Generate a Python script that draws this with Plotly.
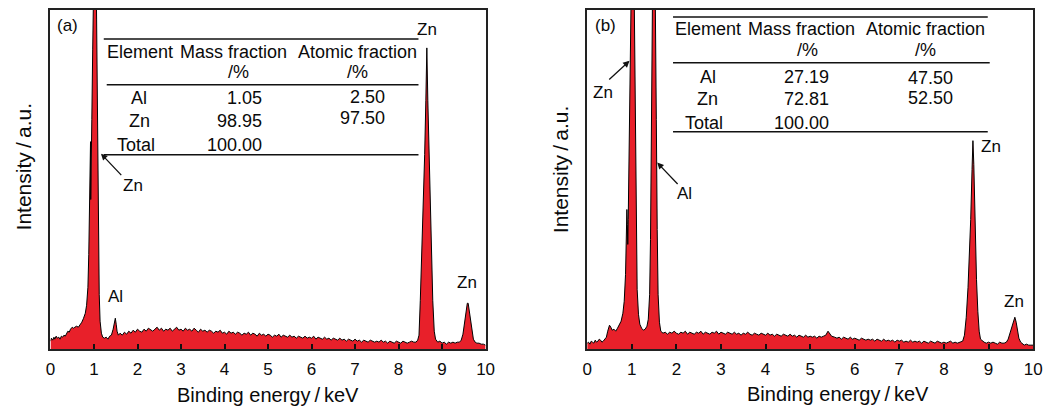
import plotly.graph_objects as go

# ---------------- data (intensity in a.u.) ----------------
spectrum_a = [
    (0.00, 8), (0.02, 11), (0.05, 9), (0.08, 12), (0.10, 10), (0.13, 13), (0.16, 11), (0.19, 12),
    (0.22, 10), (0.25, 13), (0.28, 12), (0.31, 14), (0.34, 13), (0.37, 16), (0.40, 18), (0.43, 17),
    (0.46, 20), (0.50, 22), (0.53, 21), (0.56, 22), (0.60, 23), (0.64, 22), (0.68, 24), (0.72, 27),
    (0.76, 31), (0.80, 36), (0.83, 44), (0.86, 62), (0.88, 95), (0.90, 140), (0.91, 175), (0.92, 208),
    (0.925, 150), (0.93, 160), (0.95, 230), (0.97, 300), (0.99, 380), (1.01, 420), (1.04, 410),
    (1.06, 330), (1.08, 220), (1.10, 120), (1.12, 55), (1.14, 28), (1.17, 16), (1.20, 12), (1.24, 11),
    (1.28, 12), (1.32, 10), (1.36, 13), (1.40, 14), (1.44, 20), (1.47, 29), (1.49, 31), (1.51, 25),
    (1.53, 18), (1.56, 14), (1.60, 16), (1.65, 14), (1.70, 17), (1.75, 15), (1.80, 18), (1.85, 16),
    (1.90, 19), (1.95, 17), (2.00, 20), (2.05, 18), (2.10, 17), (2.15, 20), (2.20, 18), (2.25, 21),
    (2.30, 19), (2.35, 18), (2.40, 20), (2.45, 22), (2.50, 19), (2.55, 21), (2.60, 18), (2.65, 20),
    (2.70, 19), (2.75, 21), (2.80, 18), (2.85, 20), (2.90, 22), (2.95, 19), (3.00, 20), (3.05, 18),
    (3.10, 21), (3.15, 19), (3.20, 20), (3.25, 18), (3.30, 21), (3.35, 19), (3.40, 17), (3.45, 20),
    (3.50, 18), (3.55, 19), (3.60, 17), (3.65, 19), (3.70, 18), (3.75, 16), (3.80, 18), (3.85, 17),
    (3.90, 19), (3.95, 16), (4.00, 17), (4.05, 15), (4.10, 18), (4.15, 16), (4.20, 17), (4.25, 15),
    (4.30, 17), (4.35, 16), (4.40, 14), (4.45, 16), (4.50, 15), (4.55, 17), (4.60, 14), (4.65, 16),
    (4.70, 15), (4.75, 13), (4.80, 16), (4.85, 14), (4.90, 15), (4.95, 13), (5.00, 15), (5.05, 14),
    (5.10, 12), (5.15, 14), (5.20, 13), (5.25, 15), (5.30, 12), (5.35, 14), (5.40, 13), (5.45, 12),
    (5.50, 14), (5.55, 12), (5.60, 13), (5.65, 11), (5.70, 13), (5.75, 12), (5.80, 11), (5.85, 13),
    (5.90, 11), (5.95, 12), (6.00, 11), (6.05, 13), (6.10, 10), (6.15, 12), (6.20, 11), (6.25, 10),
    (6.30, 12), (6.35, 10), (6.40, 11), (6.45, 9), (6.50, 11), (6.55, 10), (6.60, 9), (6.65, 11),
    (6.70, 9), (6.75, 10), (6.80, 8), (6.85, 10), (6.90, 9), (6.95, 8), (7.00, 10), (7.05, 8),
    (7.10, 9), (7.15, 7), (7.20, 9), (7.25, 8), (7.30, 7), (7.35, 9), (7.40, 8), (7.45, 7),
    (7.50, 8), (7.55, 7), (7.60, 9), (7.65, 7), (7.70, 8), (7.75, 6), (7.80, 8), (7.85, 7),
    (7.90, 6), (7.95, 8), (8.00, 7), (8.05, 6), (8.10, 8), (8.15, 7), (8.20, 6), (8.25, 7),
    (8.30, 8), (8.35, 7), (8.40, 7), (8.44, 9), (8.47, 14), (8.50, 49), (8.55, 115), (8.575, 149),
    (8.60, 195), (8.627, 249), (8.65, 302), (8.673, 249), (8.70, 195), (8.727, 149), (8.75, 100),
    (8.786, 49), (8.82, 18), (8.85, 10), (8.90, 7), (8.95, 8), (9.00, 6), (9.05, 7), (9.10, 5),
    (9.15, 7), (9.20, 6), (9.25, 7), (9.30, 6), (9.35, 7), (9.40, 7), (9.44, 9), (9.48, 15),
    (9.52, 26), (9.55, 38), (9.58, 46), (9.60, 46), (9.62, 40), (9.65, 28), (9.68, 17), (9.72, 10),
    (9.76, 7), (9.80, 6), (9.85, 6), (9.90, 5), (9.95, 5), (10.00, 4),
]

spectrum_b = [
    (0.00, 6), (0.03, 7), (0.06, 5), (0.09, 8), (0.12, 7), (0.15, 6), (0.18, 9), (0.21, 7),
    (0.24, 8), (0.27, 10), (0.30, 9), (0.33, 7), (0.36, 8), (0.40, 10), (0.43, 12), (0.46, 18),
    (0.50, 24), (0.53, 22), (0.56, 19), (0.60, 20), (0.64, 18), (0.68, 21), (0.72, 24), (0.76, 28),
    (0.80, 36), (0.83, 48), (0.86, 75), (0.88, 110), (0.89, 140), (0.90, 125), (0.91, 105),
    (0.92, 130), (0.94, 190), (0.96, 280), (0.98, 360), (1.01, 440), (1.04, 420), (1.06, 330),
    (1.08, 220), (1.10, 120), (1.12, 60), (1.15, 35), (1.18, 25), (1.22, 21), (1.26, 19), (1.30, 20),
    (1.34, 23), (1.37, 30), (1.40, 55), (1.42, 110), (1.44, 230), (1.46, 370), (1.48, 440),
    (1.51, 440), (1.53, 360), (1.55, 230), (1.57, 120), (1.59, 55), (1.62, 27), (1.65, 18),
    (1.70, 16), (1.75, 17), (1.80, 15), (1.85, 17), (1.90, 16), (1.95, 18), (2.00, 16), (2.05, 15),
    (2.10, 17), (2.15, 16), (2.20, 18), (2.25, 15), (2.30, 17), (2.35, 16), (2.40, 15), (2.45, 17),
    (2.50, 16), (2.55, 18), (2.60, 15), (2.65, 17), (2.70, 16), (2.75, 15), (2.80, 17), (2.85, 16),
    (2.90, 18), (2.95, 15), (3.00, 17), (3.05, 16), (3.10, 15), (3.15, 17), (3.20, 16), (3.25, 15),
    (3.30, 17), (3.35, 15), (3.40, 16), (3.45, 14), (3.50, 16), (3.55, 15), (3.60, 17), (3.65, 15),
    (3.70, 14), (3.75, 16), (3.80, 15), (3.85, 14), (3.90, 16), (3.95, 15), (4.00, 14), (4.05, 16),
    (4.10, 14), (4.15, 15), (4.20, 13), (4.25, 15), (4.30, 14), (4.35, 13), (4.40, 15), (4.45, 14),
    (4.50, 13), (4.55, 15), (4.60, 13), (4.65, 14), (4.70, 12), (4.75, 14), (4.80, 13), (4.85, 12),
    (4.90, 14), (4.95, 12), (5.00, 13), (5.05, 12), (5.10, 13), (5.15, 11), (5.20, 13), (5.25, 12),
    (5.30, 13), (5.35, 14), (5.40, 18), (5.44, 16), (5.48, 13), (5.55, 12), (5.60, 11), (5.65, 12),
    (5.70, 10), (5.75, 12), (5.80, 11), (5.85, 10), (5.90, 12), (5.95, 10), (6.00, 11), (6.05, 10),
    (6.10, 9), (6.15, 11), (6.20, 10), (6.25, 9), (6.30, 10), (6.35, 9), (6.40, 10), (6.45, 8),
    (6.50, 10), (6.55, 9), (6.60, 8), (6.65, 10), (6.70, 8), (6.75, 9), (6.80, 8), (6.85, 9),
    (6.90, 7), (6.95, 9), (7.00, 8), (7.05, 9), (7.10, 7), (7.15, 8), (7.20, 7), (7.25, 9),
    (7.30, 7), (7.35, 8), (7.40, 7), (7.45, 8), (7.50, 6), (7.55, 8), (7.60, 7), (7.65, 6),
    (7.70, 8), (7.75, 7), (7.80, 6), (7.85, 8), (7.90, 7), (7.95, 6), (8.00, 7), (8.05, 6),
    (8.10, 7), (8.15, 8), (8.20, 6), (8.25, 7), (8.30, 6), (8.35, 7), (8.42, 8), (8.46, 14),
    (8.50, 32), (8.54, 62), (8.57, 90), (8.60, 130), (8.63, 180), (8.65, 209), (8.67, 185),
    (8.70, 120), (8.73, 70), (8.76, 38), (8.79, 18), (8.82, 10), (8.86, 8), (8.90, 7), (8.95, 6),
    (9.00, 7), (9.05, 6), (9.10, 7), (9.15, 6), (9.20, 5), (9.25, 7), (9.30, 6), (9.35, 6),
    (9.40, 7), (9.44, 10), (9.48, 16), (9.52, 24), (9.56, 30), (9.59, 32), (9.62, 27), (9.65, 18),
    (9.68, 11), (9.72, 7), (9.76, 5), (9.80, 4), (9.85, 5), (9.90, 4), (9.95, 4), (10.00, 4),
]

energy_a = [p[0] for p in spectrum_a]
intensity_a = [p[1] for p in spectrum_a]
energy_b = [p[0] for p in spectrum_b]
intensity_b = [p[1] for p in spectrum_b]

tick_values = list(range(0, 11))
tick_labels = [str(v) for v in tick_values]

table_header = ["Element", "Mass fraction", "Atomic fraction"]
table_elements = ["Al", "Zn", "Total"]
mass_a = ["1.05", "98.95", "100.00"]
atomic_a = ["2.50", "97.50", ""]
mass_b = ["27.19", "72.81", "100.00"]
atomic_b = ["47.50", "52.50", ""]

# ---------------- layout helpers ----------------
OFF = 8                       # page body margin of the html page
W, H = 1060 - 2 * OFF, 415 - 2 * OFF
FONT = "Liberation Sans, Arial, sans-serif"
RED = "#E8202A"
INK = "#0a0a0a"


def px(x):
    return (x - OFF) / W


def py(y):
    return 1 - (y - OFF) / H


Y_BOT, Y_TOP = 349, 9
A_L, A_R = 46, 487
B_L, B_R = 590, 1042

fig = go.Figure()
fig.add_trace(go.Scatter(x=energy_a, y=intensity_a, mode="lines", fill="tozeroy",
                         fillcolor=RED, line=dict(color="black", width=1),
                         xaxis="x", yaxis="y", hoverinfo="skip", showlegend=False))
fig.add_trace(go.Scatter(x=energy_b, y=intensity_b, mode="lines", fill="tozeroy",
                         fillcolor=RED, line=dict(color="black", width=1),
                         xaxis="x2", yaxis="y2", hoverinfo="skip", showlegend=False))

xaxis_common = dict(range=[0, 10], tickvals=tick_values, ticktext=tick_labels,
                    ticks="inside", ticklen=5, tickwidth=1.5, tickcolor="#111",
                    showline=True, linecolor="#222", linewidth=1.5, mirror=True,
                    showgrid=False, zeroline=False, ticklabelstandoff=4,
                    tickfont=dict(family=FONT, size=17, color=INK), fixedrange=True)
yaxis_common = dict(range=[0, 340], showticklabels=False, ticks="",
                    showline=True, linecolor="#222", linewidth=1.5, mirror=True,
                    showgrid=False, zeroline=False, fixedrange=True,
                    domain=[py(Y_BOT), py(Y_TOP)])

fig.update_layout(
    width=W, height=H, margin=dict(l=0, r=0, t=0, b=0),
    paper_bgcolor="white", plot_bgcolor="white",
    xaxis=dict(xaxis_common, domain=[px(A_L), px(A_R)], anchor="y"),
    yaxis=dict(yaxis_common, anchor="x"),
    xaxis2=dict(xaxis_common, domain=[px(B_L), px(B_R)], anchor="y2"),
    yaxis2=dict(yaxis_common, anchor="x2"),
    font=dict(family=FONT, color=INK),
)

ann = []
shapes = []


def text(x, y, s, size=18, xanchor="center", ref="paper", xr="x", yr="y", angle=0):
    if ref == "paper":
        xx, yy, xref, yref = px(x), py(y), "paper", "paper"
    else:
        xx, yy, xref, yref = x, y, xr, yr
    ann.append(dict(x=xx, y=yy, xref=xref, yref=yref, text=s, showarrow=False,
                    xanchor=xanchor, yanchor="middle", textangle=angle,
                    borderpad=0, borderwidth=0,
                    font=dict(family=FONT, size=size, color=INK)))


def arrow(head, tail, xr, yr):
    ann.append(dict(x=head[0], y=head[1], ax=tail[0], ay=tail[1], xref=xr, yref=yr,
                    axref=xr, ayref=yr, text="", showarrow=True, arrowhead=2,
                    arrowsize=1, arrowwidth=1.3, arrowcolor="#111"))


def hline(x0, x1, y):
    shapes.append(dict(type="line", xref="paper", yref="paper", x0=px(x0), x1=px(x1),
                       y0=py(y), y1=py(y), line=dict(color="#111", width=1.5)))


# axis titles and panel letters
text(266, 395, "Binding energy\u2009/\u2009keV", size=20)
text(844, 394, "Binding energy\u2009/\u2009keV", size=20)
text(19, 166, "Intensity\u2009/\u2009a.u.", size=21, angle=-90)
text(563, 169, "Intensity\u2009/\u2009a.u.", size=21, angle=-90)
text(63, 25, "(a)", size=17)
text(609, 25, "(b)", size=17)

# peak labels, panel (a)
text(8.66, 320, "Zn", size=17, ref="data", xr="x", yr="y")
text(1.90, 164, "Zn", size=17, ref="data", xr="x", yr="y")
arrow((1.16, 196), (1.66, 173), "x", "y")
text(1.50, 53, "Al", size=17, ref="data", xr="x", yr="y")
text(9.57, 67, "Zn", size=17, ref="data", xr="x", yr="y")

# peak labels, panel (b)
text(0.35, 257, "Zn", size=17, ref="data", xr="x2", yr="y2")
arrow((0.95, 289), (0.46, 269), "x2", "y2")
text(2.19, 156, "Al", size=17, ref="data", xr="x2", yr="y2")
arrow((1.57, 187), (2.06, 164), "x2", "y2")
text(9.05, 203, "Zn", size=17, ref="data", xr="x2", yr="y2")
text(9.58, 48, "Zn", size=17, ref="data", xr="x2", yr="y2")

# ---- table (a)
hline(100, 419, 38)
text(103, 51, table_header[0], xanchor="left")
text(177, 51, table_header[1], xanchor="left")
text(297, 51, table_header[2], xanchor="left")
text(237, 71, "/%")
text(357, 71, "/%")
hline(103, 419, 84)
rows_y_a = [97, 120, 144]
elem_x_a = [136, 136, 133]
atom_y_a = [96, 117, 144]
for i in range(3):
    text(elem_x_a[i], rows_y_a[i], table_elements[i])
    text(260, rows_y_a[i], mass_a[i], xanchor="right")
    if atomic_a[i]:
        text(385, atom_y_a[i], atomic_a[i], xanchor="right")
hline(100, 419, 154)

# ---- table (b)
hline(677, 996, 16)
text(679, 28, table_header[0], xanchor="left")
text(753, 28, table_header[1], xanchor="left")
text(873, 28, table_header[2], xanchor="left")
text(813, 49, "/%")
text(933, 49, "/%")
hline(677, 998, 62)
rows_y_b = [76, 98, 122]
elem_x_b = [712, 712, 708]
atom_y_b = [77, 97, 122]
for i in range(3):
    text(elem_x_b[i], rows_y_b[i], table_elements[i])
    text(835, rows_y_b[i], mass_b[i], xanchor="right")
    if atomic_b[i]:
        text(961, atom_y_b[i], atomic_b[i], xanchor="right")
hline(677, 996, 131)

fig.update_layout(annotations=ann, shapes=shapes)
fig.write_html("out.html")
